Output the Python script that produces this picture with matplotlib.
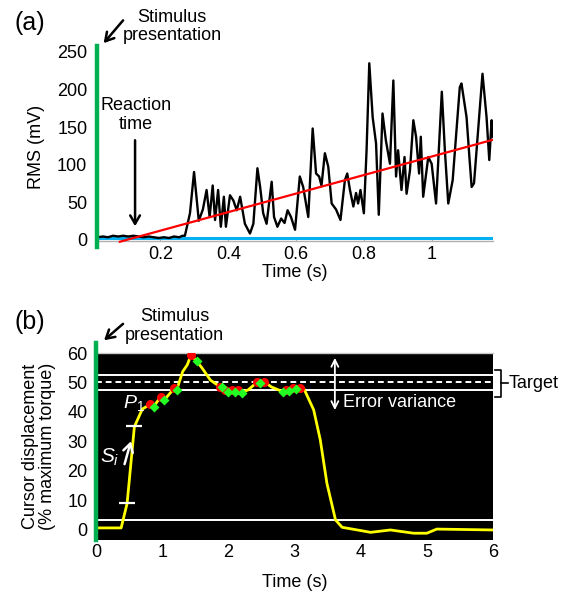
import matplotlib
matplotlib.use('Agg')
import matplotlib.pyplot as plt
from matplotlib.lines import Line2D

plt.rcParams['font.family'] = ['Liberation Sans', 'DejaVu Sans']
plt.rcParams['mathtext.fontset'] = 'custom'
plt.rcParams['mathtext.rm'] = 'Liberation Sans'
plt.rcParams['mathtext.it'] = 'Liberation Sans:italic'

# ---------------- Panel (a) data ----------------
rms_time = [0.015, 0.03, 0.045, 0.06, 0.075, 0.09, 0.105, 0.12, 0.135, 0.15, 0.165,
            0.18, 0.195, 0.21, 0.225, 0.24, 0.255, 0.265, 0.272,
            0.287, 0.299, 0.313, 0.325, 0.336, 0.345, 0.354, 0.361, 0.370, 0.378,
            0.387, 0.393, 0.405, 0.415, 0.425, 0.435, 0.449, 0.464, 0.474, 0.486,
            0.494, 0.503, 0.513, 0.528, 0.535, 0.545, 0.556, 0.566, 0.575, 0.585,
            0.597, 0.611, 0.621, 0.636, 0.649, 0.659, 0.668, 0.675, 0.685, 0.695,
            0.705, 0.718, 0.731, 0.744, 0.751, 0.759, 0.769, 0.777, 0.783, 0.790,
            0.800, 0.808, 0.816, 0.826, 0.836, 0.844, 0.855, 0.865, 0.877, 0.887,
            0.895, 0.901, 0.911, 0.920, 0.926, 0.936, 0.946, 0.954, 0.963, 0.968,
            0.975, 0.990, 1.000, 1.013, 1.030, 1.039, 1.049, 1.062, 1.083, 1.088,
            1.103, 1.112, 1.118, 1.125, 1.150, 1.162, 1.170, 1.177, 1.181]
rms_value = [3, 4, 3, 5, 4, 5, 4, 5, 4, 3, 4,
             3, 2, 3, 2, 4, 3, 5, 5,
             35, 90, 25, 40, 66, 30, 72, 26, 66, 17,
             57, 17, 59, 52, 39, 57, 21, 8, 21, 95,
             70, 35, 21, 77, 30, 17, 28, 22, 39, 30,
             13, 84, 70, 30, 148, 88, 84, 72, 115, 97,
             48, 40, 26, 79, 88, 66, 44, 62, 48, 66,
             35, 119, 235, 163, 128, 33, 168, 132, 101, 212,
             84, 119, 66, 110, 61, 92, 159, 137, 88, 137,
             57, 110, 101, 48, 197, 119, 48, 79, 203, 208,
             163, 106, 70, 75, 221, 163, 106, 159, 137]
fit_time = [0.08, 1.181]
fit_value = [-3, 133]
baseline_level = 2
rms_xticks = [0.2, 0.4, 0.6, 0.8, 1.0]
rms_xticklabels = ['0.2', '0.4', '0.6', '0.8', '1']
rms_yticks = [0, 50, 100, 150, 200, 250]

# ---------------- Panel (b) data ----------------
cursor_time = [0.0, 0.38, 0.47, 0.58, 0.70, 0.82, 0.87, 0.98, 1.03, 1.18, 1.22, 1.31,
               1.38, 1.435, 1.52, 1.60, 1.73, 1.87, 1.90, 1.95, 1.99, 2.05, 2.10, 2.15,
               2.20, 2.30, 2.43, 2.48, 2.54, 2.65, 2.82, 2.87, 2.92, 2.97, 3.02, 3.08,
               3.14, 3.29, 3.39, 3.49, 3.62, 3.72, 3.95, 4.15, 4.45, 4.80, 5.00, 5.15, 6.0]
cursor_value = [0.7, 0.7, 9, 35, 41, 42.6, 41.8, 45.2, 44, 48, 47.5, 53.7,
                56, 59.3, 57.3, 55, 50.8, 48.6, 48.4, 47.5, 46.9, 47.5, 46.9, 47.3,
                46.6, 47.5, 50, 49.7, 50.3, 48.5, 46.9, 47.5, 47.1, 48, 47.8, 48.2,
                48, 40.7, 30.5, 15.8, 3.4, 0.9, 0, -0.8, 0, -1.1, -1.1, 0.3, 0]
peak_time = [0.82, 0.98, 1.18, 1.435, 1.87, 1.95, 2.05, 2.15, 2.43, 2.54, 2.87, 2.97, 3.08]
peak_value = [42.6, 45.2, 48, 59.3, 48.6, 47.5, 47.5, 47.3, 50, 50.3, 47.5, 48, 48.2]
trough_time = [0.87, 1.03, 1.22, 1.52, 1.90, 1.99, 2.10, 2.20, 2.48, 2.82, 2.92, 3.02]
trough_value = [41.8, 44, 47.5, 57.3, 48.4, 46.9, 46.9, 46.6, 49.7, 46.9, 47.1, 47.8]
rise_time = [0.47, 0.58]
rise_value = [9.2, 35.2]
target_level = 50
band_upper = 52.5
band_lower = 47.5
onset_level = 3.5
cursor_xticks = [0, 1, 2, 3, 4, 5, 6]
cursor_yticks = [0, 10, 20, 30, 40, 50, 60]

GREEN = '#00B050'
BLUE = '#00B0F0'
FS = 13

W, H = 566, 594
fig = plt.figure(figsize=(W / 100, H / 100), dpi=100)


def rect(l, t, r, b):
    return [l / W, 1 - b / H, (r - l) / W, (b - t) / H]


# ================= Panel (a) =================
ax1 = fig.add_axes(rect(97, 46, 493, 247))
ax1.set_xlim(0.0127, 1.181)
ax1.set_ylim(-10, 258)
for s in ['top', 'right', 'left']:
    ax1.spines[s].set_visible(False)
ax1.spines['bottom'].set_position(('data', -2.5))
ax1.spines['bottom'].set_color('#b0b0b0')
ax1.spines['bottom'].set_linewidth(1.0)
ax1.axhline(baseline_level, color=BLUE, lw=2.2, zorder=2)
ax1.plot(rms_time, rms_value, color='black', lw=1.7, zorder=3, solid_joinstyle='round')
ax1.plot(fit_time, fit_value, color='red', lw=1.6, zorder=4)
ax1.axvline(0.0127, color=GREEN, lw=3.2, zorder=5, clip_on=False)
ax1.set_xticks(rms_xticks)
ax1.set_xticklabels(rms_xticklabels)
ax1.set_yticks(rms_yticks)
ax1.tick_params(axis='x', direction='in', length=3, color='#b0b0b0', labelsize=FS, pad=3)
ax1.tick_params(axis='y', length=0, labelsize=FS, pad=7)
ax1.set_xlabel('Time (s)', fontsize=FS, labelpad=1)
ax1.set_ylabel('RMS (mV)', fontsize=FS, labelpad=9)

ax1.annotate('', xy=(0.125, 14), xytext=(0.125, 136),
             arrowprops=dict(arrowstyle='->,head_length=0.6,head_width=0.35', color='black', lw=1.8))
ax1.text(0.127, 166, 'Reaction\ntime', ha='center', va='center', fontsize=FS, linespacing=1.1)
ax1.annotate('', xy=(0.027, 259), xytext=(0.095, 295), annotation_clip=False,
             arrowprops=dict(arrowstyle='->,head_length=0.6,head_width=0.35', color='black', lw=1.8))
ax1.text(0.234, 284, 'Stimulus\npresentation', ha='center', va='center', fontsize=FS,
         linespacing=1.1, clip_on=False)
fig.text(30 / W, 1 - 23 / H, '(a)', ha='center', va='center', fontsize=18)

# ================= Panel (b) =================
ax2 = fig.add_axes(rect(96, 353, 493, 540))
ax2.set_xlim(0, 6)
ax2.set_ylim(-3.4, 60)
ax2.set_facecolor('black')
for s in ['right', 'left', 'bottom']:
    ax2.spines[s].set_visible(False)
ax2.spines['top'].set_color('#c8c8c8')
ax2.spines['top'].set_linewidth(1.0)
ax2.axhline(band_upper, color='white', lw=1.4)
ax2.axhline(band_lower, color='white', lw=1.4)
ax2.axhline(target_level, color='white', lw=1.4, ls=(0, (3, 2)))
ax2.axhline(onset_level, color='white', lw=1.4)
ax2.plot(cursor_time, cursor_value, color='#FFFF00', lw=2.0, zorder=3, solid_joinstyle='round')
ax2.plot(peak_time, peak_value, 'o', color='red', ms=6.5, mec='none', zorder=4)
ax2.plot(trough_time, trough_value, 'D', color='#22FF22', ms=5.5, mec='none', zorder=5)
ax2.plot(rise_time, rise_value, '_', color='white', ms=12, mew=1.6, zorder=6)
ax2.add_line(Line2D([0, 0], [-3.4, 63.4], color=GREEN, lw=3.2, clip_on=False, zorder=7))
ax2.set_xticks(cursor_xticks)
ax2.set_yticks(cursor_yticks)
ax2.tick_params(axis='x', length=0, labelsize=FS, pad=3)
ax2.tick_params(axis='y', length=0, labelsize=FS, pad=6)
ax2.set_xlabel('Time (s)', fontsize=FS, labelpad=9)
ax2.set_ylabel('Cursor displacement\n(% maximum torque)', fontsize=FS, labelpad=8, linespacing=1.05)

# Error variance arrow
ax2.annotate('', xy=(3.61, 59.3), xytext=(3.61, 39.7),
             arrowprops=dict(arrowstyle='<->,head_length=0.5,head_width=0.25', color='white', lw=1.3))
ax2.text(3.73, 43.2, 'Error variance', color='white', ha='left', va='center', fontsize=FS)
# S_i arrow
ax2.annotate('', xy=(0.54, 31), xytext=(0.42, 21.4),
             arrowprops=dict(arrowstyle='->,head_length=0.6,head_width=0.35', color='white', lw=1.8))
ax2.text(0.21, 24.7, r'$S_i$', color='white', ha='center', va='center', fontsize=15)
ax2.text(0.57, 43.2, r'$P_\mathrm{1}$', color='white', ha='center', va='center', fontsize=14)
# Target bracket
ax2.add_line(Line2D([6.03, 6.12, 6.12, 6.03], [54.2, 54.2, 45.1, 45.1], color='black',
                    lw=1.2, clip_on=False))
ax2.add_line(Line2D([6.12, 6.22], [49.8, 49.8], color='black', lw=1.2, clip_on=False))
ax2.text(6.23, 49.8, 'Target', ha='left', va='center', fontsize=FS, clip_on=False)
# Stimulus presentation
ax2.annotate('', xy=(0.09, 63.7), xytext=(0.44, 70.5), annotation_clip=False,
             arrowprops=dict(arrowstyle='->,head_length=0.6,head_width=0.35', color='black', lw=1.8))
ax2.text(1.19, 69.2, 'Stimulus\npresentation', ha='center', va='center', fontsize=FS,
         linespacing=1.1, clip_on=False)
fig.text(30 / W, 1 - 322 / H, '(b)', ha='center', va='center', fontsize=18)

fig.savefig('out.png', dpi=100)
